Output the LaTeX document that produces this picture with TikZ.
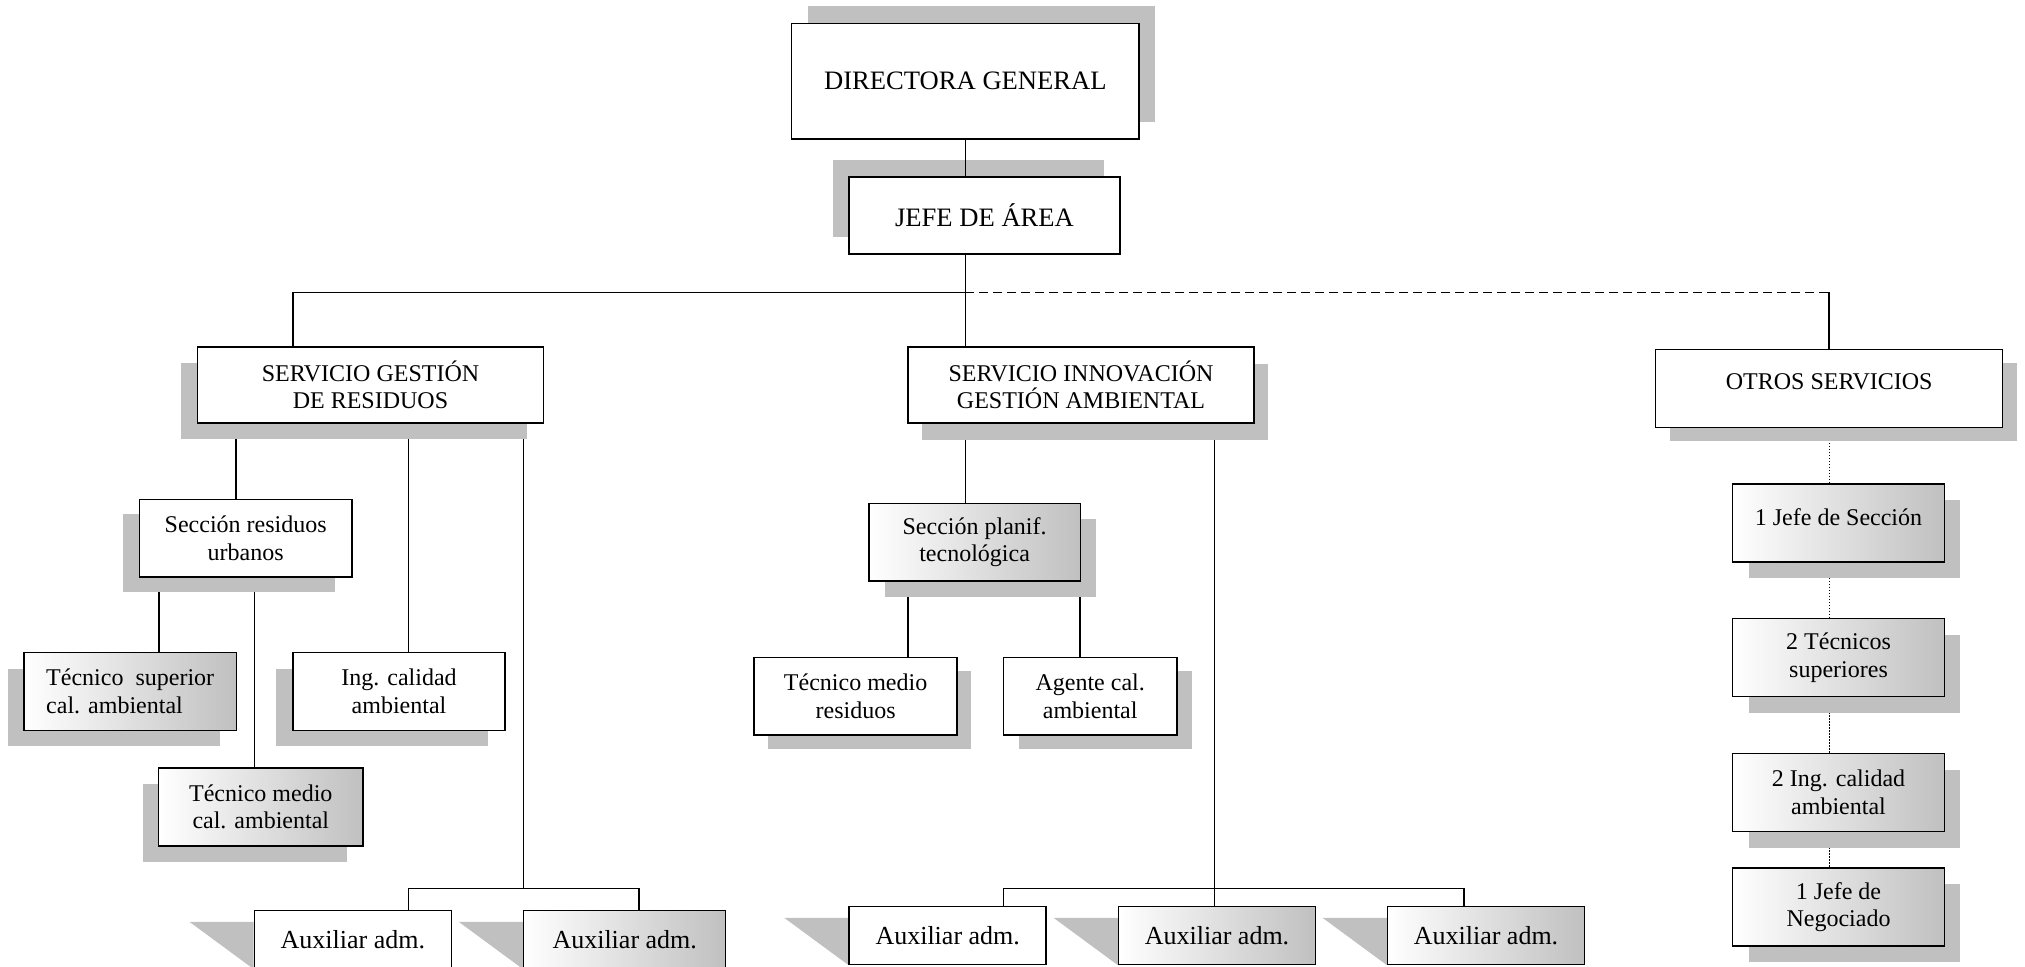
\documentclass[tikz,border=0pt]{standalone}
\usepackage{fontspec}
\setmainfont{Liberation Serif}
\usetikzlibrary{shadows,backgrounds}
\definecolor{shadegray}{RGB}{192,192,192}
\tikzset{
  box/.style={draw, line width=0.75pt, fill=white, align=center, inner sep=0pt,
    font=\fontsize{12}{13.8}\selectfont},
  gradbox/.style={box, left color=white, right color=shadegray},
  auxbox/.style={minimum width=98.5pt, minimum height=28.8pt,
    font=\fontsize{13}{15}\selectfont},
  shad/.style 2 args={drop shadow={shadow xshift=#1, shadow yshift=#2,
    fill=shadegray, opacity=1}},
  conn/.style={line width=0.75pt},
  dashline/.style={line width=0.75pt, dash pattern=on 4.5pt off 2.5pt},
  dotline/.style={line width=0.6pt, dash pattern=on 0.7pt off 0.8pt},
}
\begin{document}
\begin{tikzpicture}[x=0.5pt, y=-0.5pt]
  \useasboundingbox (0,0) rectangle (2025,966);

  \node [box, shad={8pt}{8.5pt}, minimum width=173.7pt, minimum height=57.9pt,
    font=\fontsize{13.3}{15}\selectfont] (dir) at (965.4,81.2) {DIRECTORA GENERAL};
  \node [box, shad={-8pt}{8.5pt}, minimum width=135.5pt, minimum height=38.5pt,
    font=\fontsize{13.3}{15}\selectfont] (jefe) at (984.5,215.5) {JEFE DE ÁREA};

  \node [box, shad={-8.5pt}{-8pt}, minimum width=173pt, minimum height=38pt]
    (sgr) at (370.5,385) {SERVICIO GESTIÓN\\DE RESIDUOS};
  \node [box, shad={7pt}{-8.5pt}, minimum width=173.2pt, minimum height=38pt]
    (siga) at (1081,385) {SERVICIO INNOVACIÓN\\GESTIÓN AMBIENTAL};
  \node [box, shad={7pt}{-7pt}, minimum width=173.5pt, minimum height=39pt,
    text depth=6.6pt] (otros) at (1829.2,388.3) {OTROS SERVICIOS};

  \node [box, shad={-8.5pt}{-7.5pt}, minimum width=106.1pt, minimum height=38.9pt]
    (sru) at (245.7,538.2) {Sección residuos\\urbanos};
  \node [gradbox, shad={-8pt}{-8pt}, minimum width=106.2pt, minimum height=38.8pt,
    align=left] (tsup) at (130.2,691.5) {Técnico\ \ superior\\cal. ambiental};
  \node [box, shad={-8.5pt}{-8pt}, minimum width=106pt, minimum height=38.8pt]
    (ing) at (399,691.5) {Ing. calidad\\ambiental};
  \node [gradbox, shad={-8pt}{-8pt}, minimum width=102.2pt, minimum height=39pt]
    (tmed) at (260.8,807) {Técnico medio\\cal. ambiental};

  \node [gradbox, shad={8pt}{-8pt}, minimum width=105.8pt, minimum height=38.9pt]
    (spt) at (974.6,542.2) {Sección planif.\\tecnológica};
  \node [box, shad={7pt}{-7pt}, minimum width=101.6pt, minimum height=38.9pt]
    (tmr) at (855.6,696.2) {Técnico medio\\residuos};
  \node [box, shad={7.5pt}{-7pt}, minimum width=86.7pt, minimum height=38.9pt]
    (agc) at (1090.2,696.2) {Agente cal.\\ambiental};

  \node [box, auxbox] (aux1) at (352.9,939.5) {Auxiliar adm.};
  \node [gradbox, auxbox, minimum width=101pt] (aux2) at (624.7,939.5) {Auxiliar adm.};
  \node [box, auxbox] (aux3) at (947.7,935.5) {Auxiliar adm.};
  \node [gradbox, auxbox] (aux4) at (1217,935.5) {Auxiliar adm.};
  \node [gradbox, auxbox] (aux5) at (1486,935.5) {Auxiliar adm.};

  \node [gradbox, shad={8pt}{-8pt}, minimum width=105.8pt, minimum height=39pt,
    text depth=6pt] (r1) at (1838.5,523) {1 Jefe de Sección};
  \node [gradbox, shad={8pt}{-8pt}, minimum width=105.8pt, minimum height=39pt]
    (r2) at (1838.5,657.5) {2 Técnicos\\superiores};
  \node [gradbox, shad={8pt}{-8pt}, minimum width=105.8pt, minimum height=39pt]
    (r3) at (1838.5,792.5) {2 Ing. calidad\\ambiental};
  \node [gradbox, shad={8pt}{-8pt}, minimum width=105.8pt, minimum height=39pt]
    (r4) at (1838.5,907.2) {1 Jefe de\\Negociado};

  \coordinate (busL) at (293,292.3);
  \coordinate (busM) at (dir.south |- busL);
  \coordinate (busR) at (otros.north |- busL);
  \coordinate (busA) at (523.6,888.3);
  \coordinate (busB) at (1214.5,888.3);

  \begin{scope}[on background layer]
    \draw [conn] (sgr.south -| 236,0) -- (sru.north -| 236,0);
    \draw [conn] (sgr.south -| 408.6,0) -- (ing.north -| 408.6,0);
    \draw [conn] (sgr.south -| busA) -- (busA);
    \draw [conn] (aux1.north -| 408.6,0) |- (busA) -| (aux2.north -| 639,0);
    \draw [conn] (sru.south -| 159,0) -- (tsup.north -| 159,0);
    \draw [conn] (sru.south -| 254.6,0) -- (tmed.north -| 254.6,0);
    \draw [conn] (siga.south -| dir.south) -- (spt.north -| dir.south);
    \draw [conn] (siga.south -| busB) -- (aux4.north -| busB);
    \draw [conn] (aux3.north -| 1003.3,0) |- (busB) -| (aux5.north -| 1463.8,0);
    \draw [conn] (spt.south -| 907.8,0) -- (tmr.north -| 907.8,0);
    \draw [conn] (spt.south -| 1080,0) -- (agc.north -| 1080,0);
    \foreach \a/\b in {otros/r1, r1/r2, r2/r3, r3/r4}
      \draw [dotline] (\a.south -| otros.south) -- (\b.north -| otros.south);
    \foreach \i in {1,...,5}
      \fill [shadegray] ([xshift=-32pt, yshift=-6pt]aux\i.north west)
        -- ([yshift=-6pt]aux\i.north west) -- (aux\i.south west) -- cycle;
  \end{scope}

  \draw [conn] (dir.south) -- (dir.south |- jefe.north);
  \draw [conn] (dir.south |- jefe.south) -- (dir.south |- siga.north);
  \draw [conn] (busL) -- (busM);
  \draw [dashline] (busM) -- (busR);
  \draw [conn] (busR) -- (otros.north);
  \draw [conn] (busL) -- (busL |- sgr.north);
\end{tikzpicture}
\end{document}
